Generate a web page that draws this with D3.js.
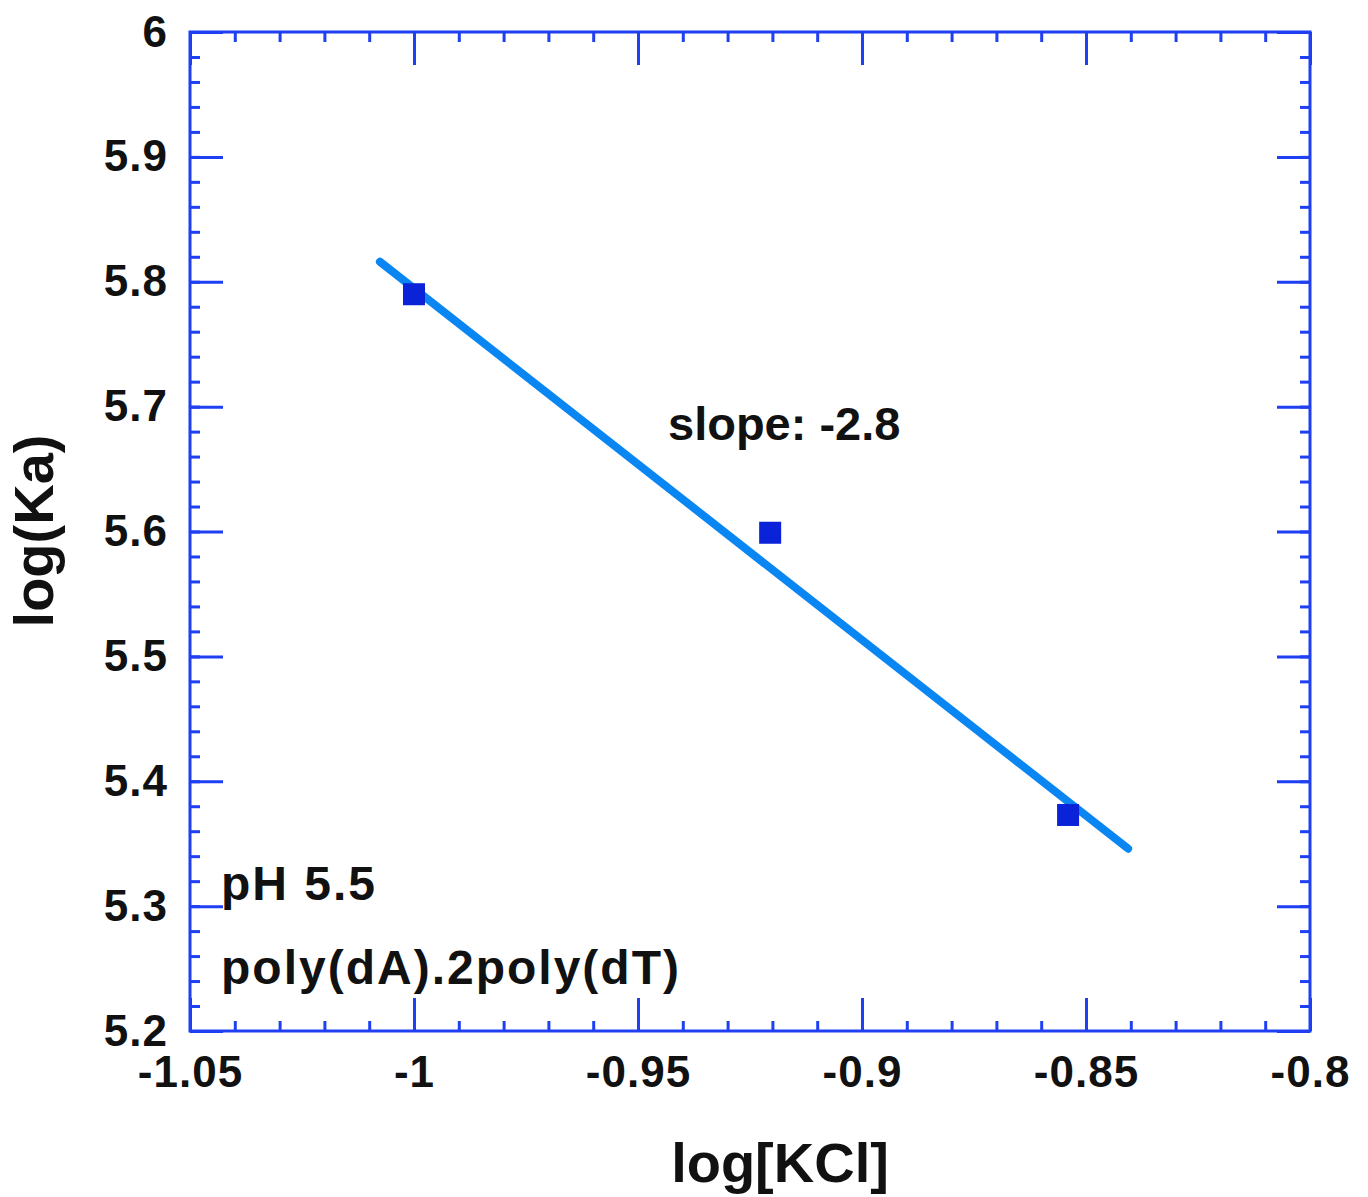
<!DOCTYPE html>
<html>
<head>
<meta charset="utf-8">
<script src="https://cdn.jsdelivr.net/npm/d3@7"></script>
<style>
  body { margin: 0; background: #fff; }
  text { font-family: "Liberation Sans", Arial, sans-serif; font-weight: bold; fill: #111; }
</style>
</head>
<body>
<div id="chart"></div>
<script>
// data
const logKCl = [-1.0, -0.9205, -0.854]
const logKa = [5.79, 5.599, 5.373]
// fitted line ends
const fitX = [-1.0076, -0.8406]
const fitY = [5.816, 5.346]
const xTicks = [-1.05, -1, -0.95, -0.9, -0.85, -0.8]
const yTicks = [5.2, 5.3, 5.4, 5.5, 5.6, 5.7, 5.8, 5.9, 6]
const notes = ["slope: -2.8", "pH 5.5", "poly(dA).2poly(dT)"]

const W = 1368, H = 1197
const MARGIN = { TOP: 32, LEFT: 190, RIGHT: 58, BOTTOM: 166 }
const WIDTH = W - MARGIN.LEFT - MARGIN.RIGHT
const HEIGHT = H - MARGIN.TOP - MARGIN.BOTTOM

const AXIS = "#1f3ff2"

const svg = d3.select("#chart").append("svg")
    .attr("width", W)
    .attr("height", H)
  .append("g")
    .attr("transform", `translate(${MARGIN.LEFT},${MARGIN.TOP})`)

const x = d3.scaleLinear().domain([-1.05, -0.8]).range([0, WIDTH])
const y = d3.scaleLinear().domain([5.2, 6]).range([HEIGHT, 0])

const fmt = d => String(+d.toFixed(2))

function styleAxis(g) {
    g.select(".domain").remove()
    g.selectAll("line").attr("stroke", AXIS).attr("stroke-width", 3)
    g.selectAll("text")
        .attr("fill", "#111")
        .style("font-size", "44px")
        .style("letter-spacing", "1px")
        .style("font-family", "Liberation Sans, Arial, sans-serif")
        .style("font-weight", "bold")
}

// minor ticks all round
svg.append("g").attr("transform", `translate(0,${HEIGHT})`)
    .call(d3.axisBottom(x).ticks(25).tickSize(-10).tickFormat("")).call(styleAxis)
svg.append("g")
    .call(d3.axisTop(x).ticks(25).tickSize(-10).tickFormat("")).call(styleAxis)
svg.append("g")
    .call(d3.axisLeft(y).ticks(40).tickSize(-10).tickFormat("")).call(styleAxis)
svg.append("g").attr("transform", `translate(${WIDTH},0)`)
    .call(d3.axisRight(y).ticks(40).tickSize(-10).tickFormat("")).call(styleAxis)

// major ticks with labels
svg.append("g").attr("transform", `translate(0,${HEIGHT})`)
    .call(d3.axisBottom(x).tickValues(xTicks).tickSize(-33).tickSizeOuter(0).tickPadding(25).tickFormat(fmt))
    .call(styleAxis)
svg.append("g")
    .call(d3.axisTop(x).tickValues(xTicks).tickSize(-33).tickFormat("")).call(styleAxis)
svg.append("g")
    .call(d3.axisLeft(y).tickValues(yTicks).tickSize(-33).tickSizeOuter(0).tickPadding(22).tickFormat(fmt))
    .call(styleAxis)
svg.append("g").attr("transform", `translate(${WIDTH},0)`)
    .call(d3.axisRight(y).tickValues(yTicks).tickSize(-33).tickFormat("")).call(styleAxis)

// frame
svg.append("rect")
    .attr("width", WIDTH)
    .attr("height", HEIGHT)
    .attr("fill", "none")
    .attr("stroke", AXIS)
    .attr("stroke-width", 3)

// fit line
const fit = fitX.map((v, i) => [v, fitY[i]])
svg.append("path")
    .datum(fit)
    .attr("d", d3.line().x(d => x(d[0])).y(d => y(d[1])))
    .attr("fill", "none")
    .attr("stroke", "#0a86f2")
    .attr("stroke-width", 8)
    .attr("stroke-linecap", "round")

// points
const S = 22
svg.selectAll("rect.pt")
    .data(logKCl)
    .enter().append("rect")
    .attr("class", "pt")
    .attr("x", d => x(d) - S / 2)
    .attr("y", (d, i) => y(logKa[i]) - S / 2)
    .attr("width", S)
    .attr("height", S)
    .attr("fill", "#0a22d8")

// annotations
svg.append("text")
    .attr("x", 668 - MARGIN.LEFT)
    .attr("y", 440 - MARGIN.TOP)
    .style("font-size", "47px")
    .text(notes[0])
svg.append("text")
    .attr("x", 221 - MARGIN.LEFT)
    .attr("y", 900 - MARGIN.TOP)
    .style("font-size", "48px")
    .style("letter-spacing", "2px")
    .text(notes[1])
svg.append("text")
    .attr("x", 221 - MARGIN.LEFT)
    .attr("y", 984 - MARGIN.TOP)
    .style("font-size", "48px")
    .style("letter-spacing", "2px")
    .text(notes[2])

// axis titles
svg.append("text")
    .attr("x", 780 - MARGIN.LEFT)
    .attr("y", 1182 - MARGIN.TOP)
    .attr("text-anchor", "middle")
    .style("font-size", "56px")
    .text("log[KCl]")

svg.append("text")
    .attr("transform", `translate(${53 - MARGIN.LEFT},${531 - MARGIN.TOP}) rotate(-90)`)
    .attr("text-anchor", "middle")
    .style("font-size", "56px")
    .text("log(Ka)")
</script>
</body>
</html>
